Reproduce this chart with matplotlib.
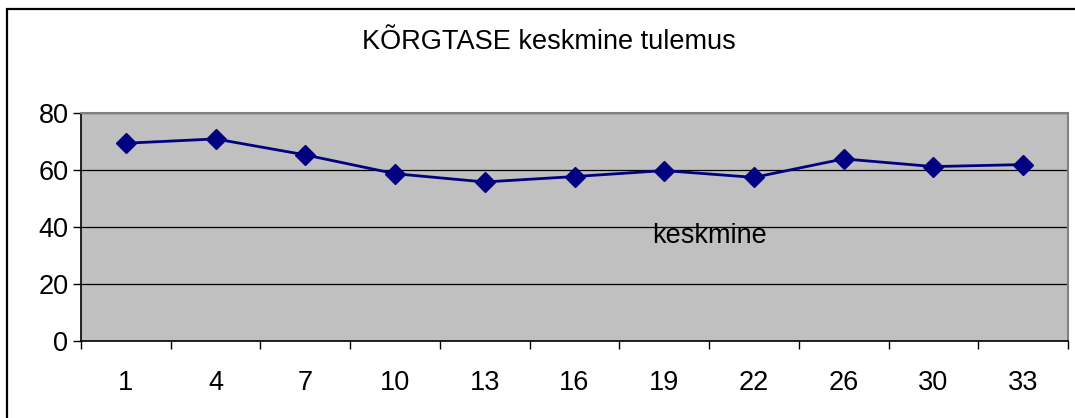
import numpy as np
import matplotlib.pyplot as plt
from matplotlib.patches import Rectangle

plt.rcParams['font.family'] = ['Liberation Sans', 'DejaVu Sans']

# data
categories = ['1', '4', '7', '10', '13', '16', '19', '22', '26', '30', '33']
keskmine = [69.4, 70.9, 65.3, 58.7, 55.8, 57.7, 59.8, 57.4, 63.9, 61.2, 61.9]
yticks = [0, 20, 40, 60, 80]

fig = plt.figure(figsize=(10.75, 4.18), dpi=100)
ax = fig.add_axes([81/1075, 1 - 341/418, (1068-81)/1075, (341-113)/418])

x = np.arange(len(categories))
ax.set_facecolor('#c0c0c0')
ax.plot(x, keskmine, color='#000080', lw=2, marker='D', ms=10.5, zorder=3)

ax.set_xlim(-0.5, len(categories) - 0.5)
ax.set_ylim(0, 80)
ax.set_yticks(yticks)
ax.set_xticks(x)
ax.set_xticklabels(categories)
ax.set_xticks(np.arange(len(categories) + 1) - 0.5, minor=True)
ax.tick_params(axis='x', which='major', length=0, pad=21, labelsize=19.5)
ax.tick_params(axis='x', which='minor', length=6, width=1, direction='out')
ax.tick_params(axis='y', length=6, width=1, direction='out', pad=3, labelsize=19.5)
ax.grid(axis='y', color='black', lw=0.9)
ax.set_axisbelow(True)

for s in ['left', 'bottom']:
    ax.spines[s].set_color('black')
    ax.spines[s].set_linewidth(1.2)
for s in ['top', 'right']:
    ax.spines[s].set_color('#808080')
    ax.spines[s].set_linewidth(1.5)

ax.text(6.5, 37, 'keskmine', fontsize=19.5, ha='center', va='center')

fig.text(549/1075, 1 - 42/418, 'KÕRGTASE keskmine tulemus', fontsize=19.5,
         ha='center', va='center')

# outer chart border
fig.patches.append(Rectangle((7/1075, -0.1), 1.2, 1.1 - 9/418, transform=fig.transFigure,
                             fill=False, edgecolor='black', lw=1.6))

fig.savefig('out.png', dpi=100)
